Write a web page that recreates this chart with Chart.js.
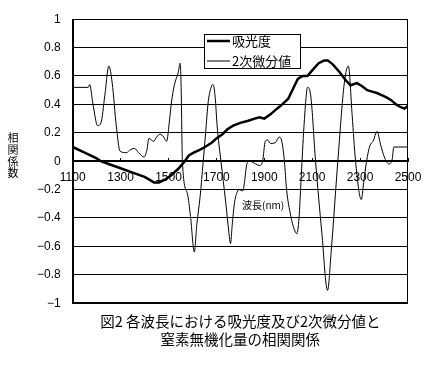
<!DOCTYPE html>
<html>
<head>
<meta charset="utf-8">
<script src="https://cdn.jsdelivr.net/npm/chart.js@4"></script>
<style>
body { margin: 0; background: #fff; }
#wrap { width: 430px; height: 368px; position: relative; }
</style>
</head>
<body>
<div id="wrap"><canvas id="chart"></canvas></div>
<script>
// 吸光度 (absorbance) correlation
var absWl  = [1100, 1150, 1200, 1218, 1250, 1300, 1350, 1400, 1420, 1440, 1460, 1485, 1510, 1540, 1568,
              1585, 1605, 1630, 1652, 1680, 1700, 1725, 1746, 1770, 1800, 1833, 1860, 1880, 1900, 1926,
              1953, 1975, 2000, 2020, 2040, 2060, 2080, 2100, 2127, 2150, 2165, 2187, 2213, 2240, 2260,
              2287, 2307, 2330, 2350, 2370, 2390, 2410, 2430, 2450, 2470, 2485, 2500];
var absVal = [0.10, 0.06, 0.02, 0.00, -0.02, -0.05, -0.08, -0.11, -0.13, -0.15, -0.15, -0.13, -0.10, -0.055, 0.00,
              0.04, 0.06, 0.08, 0.10, 0.13, 0.16, 0.19, 0.225, 0.25, 0.27, 0.285, 0.30, 0.31, 0.30, 0.33,
              0.37, 0.40, 0.44, 0.51, 0.58, 0.60, 0.60, 0.64, 0.69, 0.71, 0.71, 0.68, 0.63, 0.57, 0.535,
              0.55, 0.53, 0.50, 0.49, 0.48, 0.465, 0.45, 0.43, 0.40, 0.38, 0.37, 0.39];

// 2次微分値 (second derivative) correlation
var derWl  = [1100, 1165, 1171, 1184, 1204, 1218, 1234, 1251, 1265, 1282, 1298, 1325, 1340, 1358, 1375,
              1398, 1410, 1418, 1438, 1450, 1465, 1480, 1492, 1505, 1512, 1525, 1540, 1549, 1553, 1558,
              1579, 1592, 1608, 1618, 1632, 1645, 1655, 1666, 1680, 1686, 1695, 1703, 1719, 1739, 1752,
              1759, 1766, 1775, 1786, 1797, 1810, 1829, 1840, 1864, 1881, 1893, 1904, 1913, 1926, 1946,
              1962, 1973, 1984, 1993, 2010, 2025, 2036, 2045, 2053, 2064, 2074, 2080, 2094, 2114, 2140,
              2164, 2180, 2207, 2234, 2251, 2267, 2281, 2305, 2315, 2327, 2341, 2354, 2371, 2385, 2401,
              2421, 2434, 2441, 2500];
var derVal = [0.52, 0.52, 0.54, 0.41, 0.25, 0.27, 0.46, 0.67, 0.55, 0.25, 0.07, 0.06, 0.08, 0.09, 0.06,
              0.03, 0.08, 0.16, 0.14, 0.17, 0.19, 0.17, 0.14, 0.30, 0.41, 0.54, 0.62, 0.69, 0.50, 0.00,
              -0.23, -0.39, -0.64, -0.45, -0.25, 0.00, 0.20, 0.42, 0.53, 0.54, 0.45, 0.25, 0.00, -0.29, -0.50,
              -0.58, -0.45, -0.30, -0.22, -0.20, -0.21, -0.01, 0.00, -0.02, -0.03, 0.00, 0.14, 0.15, 0.125, 0.13,
              0.17, 0.14, 0.00, -0.20, -0.38, -0.48, -0.51, -0.40, -0.15, 0.20, 0.44, 0.52, 0.46, 0.00, -0.50,
              -0.91, -0.62, 0.00, 0.55, 0.67, 0.32, 0.00, -0.27, -0.15, 0.00, 0.11, 0.14, 0.21, 0.12, 0.03,
              -0.02, 0.015, 0.10, 0.10];

var seriesNames = ['吸光度', '2次微分値'];
var yTitle = ['相', '関', '係', '数'];
var xTitle = '波長(nm)';
var caption = ['図2 各波長における吸光度及び2次微分値と', '窒素無機化量の相関関係'];

function toPoints(xs, ys) {
	return xs.map(function(x, i) { return { x: x, y: ys[i] }; });
}

// frame, stacked y title, x title inside plot and boxed legend
var extras = {
	id: 'extras',
	afterDraw: function(chart) {
		var ctx = chart.ctx, a = chart.chartArea;
		var xs = chart.scales.x, ys = chart.scales.y;
		ctx.save();
		ctx.strokeStyle = '#000';
		ctx.lineWidth = 1;
		ctx.strokeRect(Math.round(a.left) + 0.5, Math.round(a.top) + 0.5,
			Math.round(a.right - a.left) - 1, Math.round(a.bottom - a.top) - 1);

		ctx.fillStyle = '#000';
		ctx.textAlign = 'center';
		ctx.textBaseline = 'middle';
		ctx.font = '11px "Noto Sans CJK JP"';
		var y0 = ys.getPixelForValue(0);
		for (var i = 0; i < yTitle.length; i++) {
			ctx.fillText(yTitle[i], 13, y0 - 23 + i * 11.7);
		}
		ctx.font = '10px "Noto Sans CJK JP"';
		ctx.fillText(xTitle, xs.getPixelForValue(1895), ys.getPixelForValue(-0.31));

		var lx = Math.round(a.left) + 131, ly = Math.round(a.top) + 15;
		ctx.fillStyle = '#fff';
		ctx.fillRect(lx, ly, 96, 34);
		ctx.strokeRect(lx + 0.5, ly + 0.5, 96, 34);
		ctx.textAlign = 'left';
		ctx.font = '13px "Noto Sans CJK JP"';
		chart.data.datasets.forEach(function(ds, i) {
			var yy = ly + 7 + i * 20;
			ctx.lineWidth = ds.borderWidth;
			ctx.beginPath();
			ctx.moveTo(lx + 3, yy);
			ctx.lineTo(lx + 26, yy);
			ctx.stroke();
			ctx.fillStyle = '#000';
			ctx.fillText(ds.label, lx + 28, yy);
		});
		ctx.restore();
	}
};

Chart.defaults.font.family = "'Liberation Sans', 'Noto Sans CJK JP', sans-serif";
Chart.defaults.color = '#000';

var ctx = document.getElementById('chart').getContext('2d');
var chart = new Chart(ctx, {
	type: 'line',
	data: {
		datasets: [
			{
				label: seriesNames[0],
				data: toPoints(absWl, absVal),
				borderColor: '#000',
				borderWidth: 2.5,
				pointRadius: 0,
				tension: 0,
				fill: false
			},
			{
				label: seriesNames[1],
				data: toPoints(derWl, derVal),
				borderColor: '#000',
				borderWidth: 1,
				pointRadius: 0,
				cubicInterpolationMode: 'monotone',
				fill: false
			}
		]
	},
	options: {
		responsive: true,
		maintainAspectRatio: false,
		animation: false,
		layout: { padding: { top: 11, left: 25, right: 22, bottom: 0 } },
		plugins: {
			legend: { display: false },
			tooltip: { enabled: false },
			title: {
				display: true,
				position: 'bottom',
				fullSize: false,
				text: caption,
				color: '#000',
				font: { size: 14.5, weight: 'normal', family: '"Noto Sans CJK JP"', lineHeight: 1.2 },
				padding: { top: 10, bottom: 20 }
			}
		},
		scales: {
			x: {
				type: 'linear',
				position: { y: 0 },
				min: 1100,
				max: 2500,
				afterFit: function(scale) { scale.paddingRight = 0; },
				ticks: {
					stepSize: 200,
					font: { size: 12 },
					color: '#000',
					padding: 13,
					maxRotation: 0,
					callback: function(v) { return String(v); }
				},
				grid: { drawOnChartArea: false, drawTicks: true, tickLength: -4, tickColor: '#000' },
				border: { display: true, color: '#000', width: 2 }
			},
			y: {
				min: -1,
				max: 1,
				ticks: {
					stepSize: 0.2,
					font: { size: 12 },
					color: '#000',
					padding: 12,
					callback: function(v) {
						var r = Math.round(v * 10) / 10;
						return r < 0 ? '\u2212' + Math.abs(r) : String(r);
					}
				},
				grid: { color: '#000', lineWidth: 1, drawTicks: false },
				border: { display: true, color: '#000', width: 1 }
			}
		}
	},
	plugins: [extras]
});
</script>
</body>
</html>
